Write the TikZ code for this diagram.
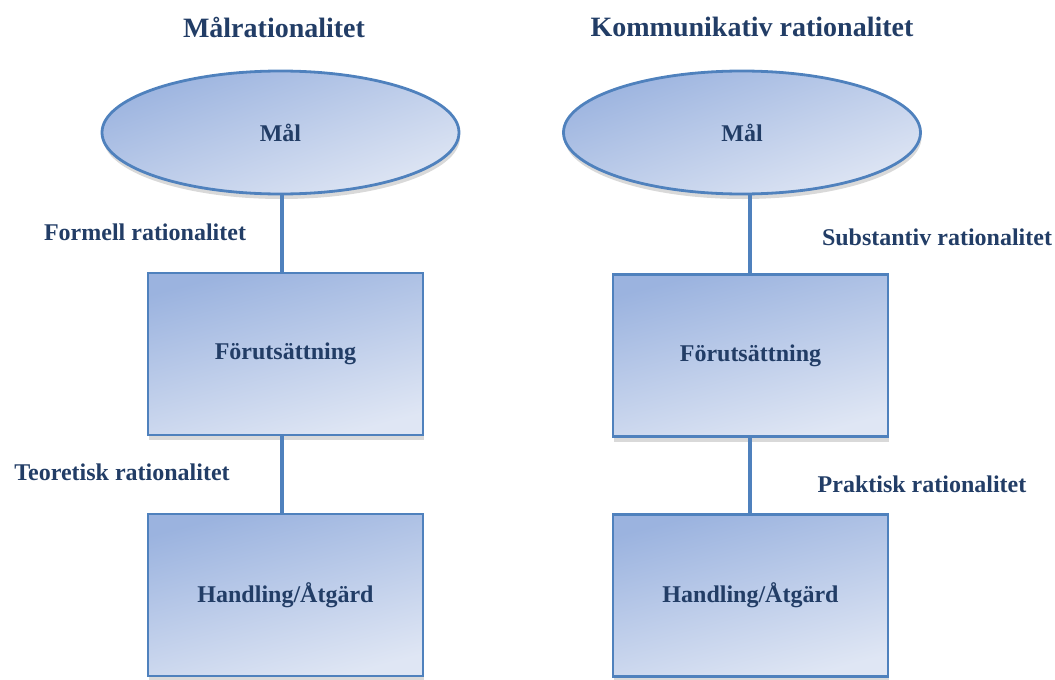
\documentclass[tikz,border=0pt]{standalone}
\usepackage{fontspec}
\setmainfont{Liberation Serif}
\usepackage{tikz}
\usetikzlibrary{positioning,shapes.geometric,shadows}

\definecolor{kant}{HTML}{4F81BD}
\definecolor{mork}{HTML}{9BB3DF}
\definecolor{ljus}{HTML}{DFE6F4}
\definecolor{text}{HTML}{223D66}

\begin{document}
\begin{tikzpicture}[x=1pt,y=-1pt,
  maal/.style={ellipse, draw=kant, line width=2.8pt, top color=mork, bottom color=ljus,
    shading angle=20, minimum width=357pt, minimum height=123pt,
    drop shadow={opacity=0.3, shadow xshift=1pt, shadow yshift=-5pt},
    text=text, font=\bfseries\fontsize{24}{28}\selectfont},
  ruta/.style={rectangle, draw=kant, line width=2.8pt, top color=mork, bottom color=ljus,
    shading angle=15, minimum width=275pt, minimum height=162pt,
    drop shadow={opacity=0.3, shadow xshift=1pt, shadow yshift=-5pt},
    text=text, font=\bfseries\fontsize{24}{28}\selectfont},
  lank/.style={draw=kant, line width=4pt},
  etikett/.style={text=text, font=\bfseries\fontsize{24}{28}\selectfont},
  rubrik/.style={text=text, font=\bfseries\fontsize{28}{32}\selectfont}]
  \useasboundingbox (0,0) rectangle (1055,680);

  % vänster kolumn
  \node[rubrik] (rub1) at (274,27) {Målrationalitet};
  \node[maal] (mal1) at (280.5,132.5) {Mål};
  \node[ruta] (forut1) at (285.5,354) {Förutsättning};
  \node[ruta] (handl1) at (285.5,595) {Handling/Åtgärd};
  \coordinate (x1) at (281.5,0);
  \draw[lank] (mal1.south -| x1) -- (forut1.north -| x1);
  \draw[lank] (forut1.south -| x1) -- (handl1.north -| x1);
  \node[etikett] (form) at (145,232) {Formell rationalitet};
  \node[etikett] (teor) at (122,472) {Teoretisk rationalitet};

  % höger kolumn
  \node[rubrik] (rub2) at (752,27) {Kommunikativ rationalitet};
  \node[maal] (mal2) at (742,132.5) {Mål};
  \node[ruta] (forut2) at (750.5,355.5) {Förutsättning};
  \node[ruta] (handl2) at (750.5,595.5) {Handling/Åtgärd};
  \coordinate (x2) at (750,0);
  \draw[lank] (mal2.south -| x2) -- (forut2.north -| x2);
  \draw[lank] (forut2.south -| x2) -- (handl2.north -| x2);
  \node[etikett] (subs) at (937,237) {Substantiv rationalitet};
  \node[etikett] (prak) at (922,484) {Praktisk rationalitet};
\end{tikzpicture}
\end{document}
